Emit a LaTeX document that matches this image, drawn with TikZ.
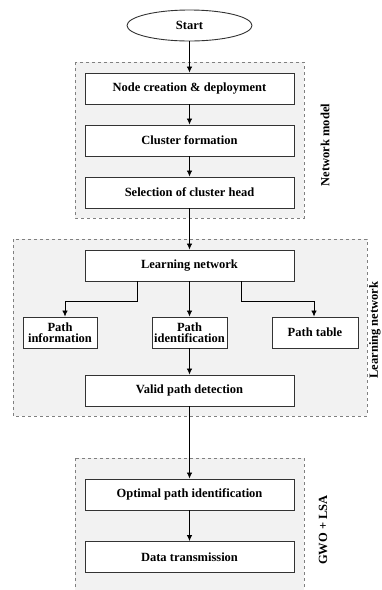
\documentclass[tikz,border=0pt]{standalone}
\usepackage{fontspec}
\setmainfont{Liberation Serif}
\usetikzlibrary{arrows.meta,shapes.geometric}

\begin{document}
\begin{tikzpicture}[x=1pt,y=-1pt,
  txt/.style={font=\bfseries\fontsize{12.5}{13}\selectfont},
  box/.style={txt,draw=black!80,line width=0.9pt,fill=white,minimum height=31pt,inner sep=2pt,align=center},
  wide/.style={box,minimum width=209pt},
  group/.style={draw=black!50,dashed,fill=black!5,line width=0.6pt},
  flow/.style={-{Latex[length=6pt,width=5.5pt]},line width=0.8pt},
  side/.style={txt,rotate=90}]
  \useasboundingbox (0,0) rectangle (382,590);

  % groups
  \draw[group] (75,62) rectangle (304,218);
  \draw[group] (13,239) rectangle (367,416);
  \draw[group] (75,458) rectangle (304,600);

  \node[txt,ellipse,draw=black!80,line width=0.9pt,fill=white,minimum width=125pt,minimum height=31pt] (start) at (189.5,25.5) {Start};
  \node[wide] (node) at (189.5,88.5)  {Node creation \& deployment};
  \node[wide] (clus) at (189.5,140.5) {Cluster formation};
  \node[wide] (head) at (189.5,192.5) {Selection of cluster head};
  \node[wide] (learn) at (189.5,265.5) {Learning network};
  \node[box,minimum width=74pt] (info)  at (60,332.5)    {Path\\[-2pt]information};
  \node[box,minimum width=75pt] (ident) at (189.5,332.5) {Path\\[-2pt]identification};
  \node[box,minimum width=86pt] (table) at (315,332.5)   {Path table};
  \node[wide] (valid) at (189.5,390.5) {Valid path detection};
  \node[wide] (opt)  at (189.5,494.5) {Optimal path identification};
  \node[wide] (data) at (189.5,557)   {Data transmission};

  \draw[flow] (start) -- (node);
  \draw[flow] (node) -- (clus);
  \draw[flow] (clus) -- (head);
  \draw[flow] (head) -- (learn);
  \draw[flow] ([xshift=-52.5pt]learn.south) -- ++(0,20) -| ([xshift=5pt]info.north);
  \draw[flow] (learn) -- (ident);
  \draw[flow] ([xshift=51.5pt]learn.south) -- ++(0,20) -| ([xshift=-1pt]table.north);
  \draw[flow] (ident) -- (valid);
  \draw[flow] (valid) -- (opt);
  \draw[flow] (opt) -- (data);

  \node[side] (netlbl)  at (325,145) {Network model};
  \node[side] (learnlbl) at (375,330) {Learning network};
  \node[side] (gwolbl)  at (323,530) {GWO + LSA};
\end{tikzpicture}
\end{document}
